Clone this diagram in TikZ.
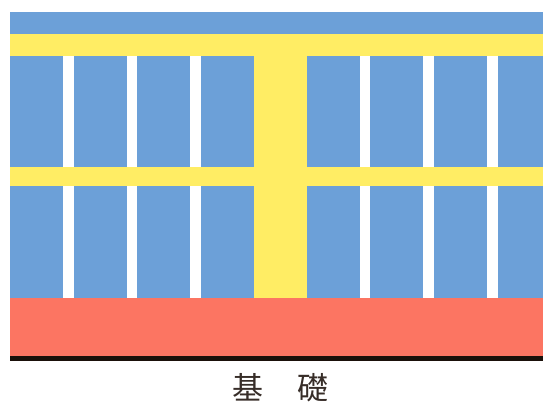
\documentclass[tikz,border=0pt]{standalone}
\usepackage{fontspec}
\newfontfamily\cjk{Noto Sans CJK JP}
\definecolor{wallblue}{RGB}{108,160,216}
\definecolor{frameyellow}{RGB}{255,237,100}
\definecolor{basered}{RGB}{252,117,98}
\definecolor{groundblack}{RGB}{26,16,10}
\definecolor{labelcol}{RGB}{55,45,40}
\tikzset{
  px/.style={x=1pt,y=-1pt},
  wall/.style={fill=wallblue,draw=none},
  frame/.style={fill=frameyellow,draw=none},
  labeltext/.style={font=\cjk\fontsize{31}{31}\selectfont,text=labelcol,inner sep=0pt,anchor=center}
}
\begin{document}
\begin{tikzpicture}[px]
\useasboundingbox (0,0) rectangle (543,403);
\fill[white] (0,0) rectangle (543,403);
\fill[wall] (10,12) rectangle (543,34);
\foreach \a/\b in {10/63,74/127,137/190,201/254,307/360,370/423,434/487,498/543}{
  \fill[wall] (\a,56) rectangle (\b,167);
  \fill[wall] (\a,186) rectangle (\b,298);
}
\fill[frame] (10,34) rectangle (543,56);
\fill[frame] (10,167) rectangle (543,186);
\fill[frame] (254,56) rectangle (307,298);
\fill[basered] (10,298) rectangle (543,355.5);
\fill[groundblack] (10,355.5) rectangle (543,361);
\node[labeltext] (ki) at (248,387.4) {基};
\node[labeltext] (so) at (313,387.4) {礎};
\end{tikzpicture}
\end{document}
